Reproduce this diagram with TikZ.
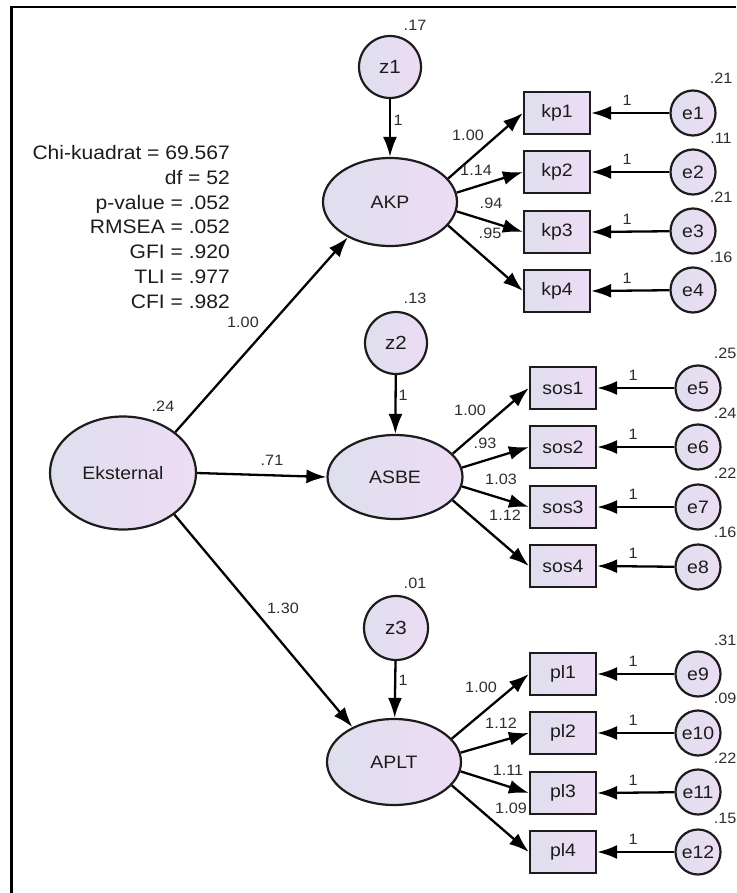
\documentclass[tikz,border=0pt]{standalone}
\usepackage{fontspec}
\setmainfont[FakeStretch=1.08]{Liberation Sans}
\usetikzlibrary{arrows.meta,shapes.geometric}
\definecolor{lavL}{RGB}{222,223,238}
\definecolor{lavR}{RGB}{237,220,244}
\definecolor{ink}{RGB}{28,28,28}
\definecolor{lbl}{RGB}{45,45,45}
\begin{document}
\begin{tikzpicture}[x=1pt,y=-1pt,
  latent/.style={ellipse, draw=ink, line width=2.2pt, left color=lavL, right color=lavR,
    inner sep=0pt, minimum width=134pt, minimum height=88pt,
    font=\fontsize{18}{20}\selectfont, text=ink},
  distc/.style={circle, draw=ink, line width=2.2pt, left color=lavL, right color=lavR,
    inner sep=0pt, minimum size=62pt, font=\fontsize{19}{20}\selectfont, text=ink},
  errc/.style={circle, draw=ink, line width=2.2pt, left color=lavL, right color=lavR,
    inner sep=0pt, minimum size=45pt, font=\fontsize{18}{20}\selectfont, text=ink},
  obs/.style={rectangle, draw=ink, line width=2.2pt, left color=lavL, right color=lavR,
    inner sep=0pt, minimum width=66pt, minimum height=42pt,
    font=\fontsize{18}{20}\selectfont, text=ink},
  conn/.style={draw=black, line width=2.3pt, -{Latex[length=20pt,width=14pt]}},
  lab/.style={font=\fontsize{15}{16}\selectfont, text=lbl, inner sep=0pt},
]
\useasboundingbox (0,0) rectangle (736,893);
% frame
\draw[line width=2.6pt, draw=black] (11.3,893) -- (11.3,7) -- (736,7);

% fit statistics
\node[align=right, anchor=east, inner sep=0pt, text=ink,
      font=\fontsize{19.5}{24.8}\selectfont] (stats) at (230,227)
 {Chi-kuadrat = 69.567\\ df = 52\\ p-value = .052\\ RMSEA = .052\\ GFI = .920\\ TLI = .977\\ CFI = .982};

% latent variables
\node[latent, minimum width=146pt, minimum height=113pt] (Eks) at (123,473) {Eksternal};
\node[latent] (AKP)  at (390,202) {AKP};
\node[latent, minimum width=135pt, minimum height=84pt] (ASBE) at (395,477) {ASBE};
\node[latent, minimum height=86pt] (APLT) at (394,762) {APLT};
\node[lab] (vEks) at (163,406) {.24};

% disturbances
\node[distc] (z1) at (390,67) {z1};
\node[distc] (z2) at (396,343) {z2};
\node[distc, minimum size=64pt] (z3) at (396,628) {z3};
\node[lab] (vz1) at (415,25) {.17};
\node[lab] (vz2) at (415,298) {.13};
\node[lab] (vz3) at (415,583) {.01};

\draw[conn] (z1) -- (AKP);
\draw[conn] (z2) -- (ASBE);
\draw[conn] (z3) -- (APLT);
\node[lab] (l1) at (398,120) {1};
\node[lab] (l2) at (403,395) {1};
\node[lab] (l3) at (403,680) {1};

% structural paths
\draw[conn] (Eks.38) -- (AKP.220);
\draw[conn] (Eks.east) -- (ASBE.west);
\draw[conn] (Eks.-39) -- (APLT.140);
\node[lab] (pAKP)  at (243,322) {1.00};
\node[lab] (pASBE) at (272,460) {.71};
\node[lab] (pAPLT) at (283,608) {1.30};

% AKP indicators
\node[obs] (kp1) at (557,113) {kp1};
\node[obs] (kp2) at (557,172) {kp2};
\node[obs] (kp3) at (557,232) {kp3};
\node[obs] (kp4) at (557,291) {kp4};
\node[errc] (e1) at (693,113) {e1};
\node[errc] (e2) at (693,172) {e2};
\node[errc] (e3) at (693,231) {e3};
\node[errc] (e4) at (693,290) {e4};

% ASBE indicators
\node[obs] (sos1) at (563,388) {sos1};
\node[obs] (sos2) at (563,447) {sos2};
\node[obs] (sos3) at (563,507) {sos3};
\node[obs] (sos4) at (563,566) {sos4};
\node[errc] (e5) at (698,388) {e5};
\node[errc] (e6) at (698,447) {e6};
\node[errc] (e7) at (698,507) {e7};
\node[errc] (e8) at (698,567) {e8};

% APLT indicators
\node[obs] (pl1) at (563,674) {pl1};
\node[obs] (pl2) at (563,733) {pl2};
\node[obs] (pl3) at (563,793) {pl3};
\node[obs] (pl4) at (563,852) {pl4};
\node[errc] (e9)  at (698,674) {e9};
\node[errc] (e10) at (698,733) {e10};
\node[errc] (e11) at (698,792) {e11};
\node[errc] (e12) at (698,852) {e12};

% loadings
\draw[conn] (AKP.22) -- (kp1.west);
\draw[conn] (AKP.8) -- (kp2.west);
\draw[conn] (AKP.-8) -- (kp3.west);
\draw[conn] (AKP.-22) -- (kp4.west);
\draw[conn] (ASBE.22) -- (sos1.west);
\draw[conn] (ASBE.8) -- (sos2.west);
\draw[conn] (ASBE.-8) -- (sos3.west);
\draw[conn] (ASBE.-22) -- (sos4.west);
\draw[conn] (APLT.22) -- (pl1.west);
\draw[conn] (APLT.8) -- (pl2.west);
\draw[conn] (APLT.-8) -- (pl3.west);
\draw[conn] (APLT.-22) -- (pl4.west);

\node[lab] (w1) at (468,135) {1.00};
\node[lab] (w2) at (476,170) {1.14};
\node[lab] (w3) at (491,203) {.94};
\node[lab] (w4) at (490,233) {.95};
\node[lab] (w5) at (470,410) {1.00};
\node[lab] (w6) at (485,443) {.93};
\node[lab] (w7) at (501,479) {1.03};
\node[lab] (w8) at (505,515) {1.12};
\node[lab] (w9)  at (481,687) {1.00};
\node[lab] (w10) at (501,723) {1.12};
\node[lab] (w11) at (508,770) {1.11};
\node[lab] (w12) at (511,808) {1.09};

% error paths
\foreach \e/\b in {e1/kp1,e2/kp2,e3/kp3,e4/kp4,e5/sos1,e6/sos2,e7/sos3,e8/sos4,
                   e9/pl1,e10/pl2,e11/pl3,e12/pl4}{
  \draw[conn] (\e) -- (\b.east);
  \node[lab] (one\e) at ([xshift=36pt,yshift=13pt]\b.east) {1};
}
% error variances
\node[lab] (ve1)  at (721,78)  {.21};
\node[lab] (ve2)  at (721,138) {.11};
\node[lab] (ve3)  at (721,197) {.21};
\node[lab] (ve4)  at (721,257) {.16};
\node[lab] (ve5)  at (725,353) {.25};
\node[lab] (ve6)  at (725,413) {.24};
\node[lab] (ve7)  at (725,473) {.22};
\node[lab] (ve8)  at (725,532) {.16};
\node[lab] (ve9)  at (725,640) {.31};
\node[lab] (ve10) at (725,698) {.09};
\node[lab] (ve11) at (725,758) {.22};
\node[lab] (ve12) at (725,818) {.15};
\end{tikzpicture}
\end{document}
